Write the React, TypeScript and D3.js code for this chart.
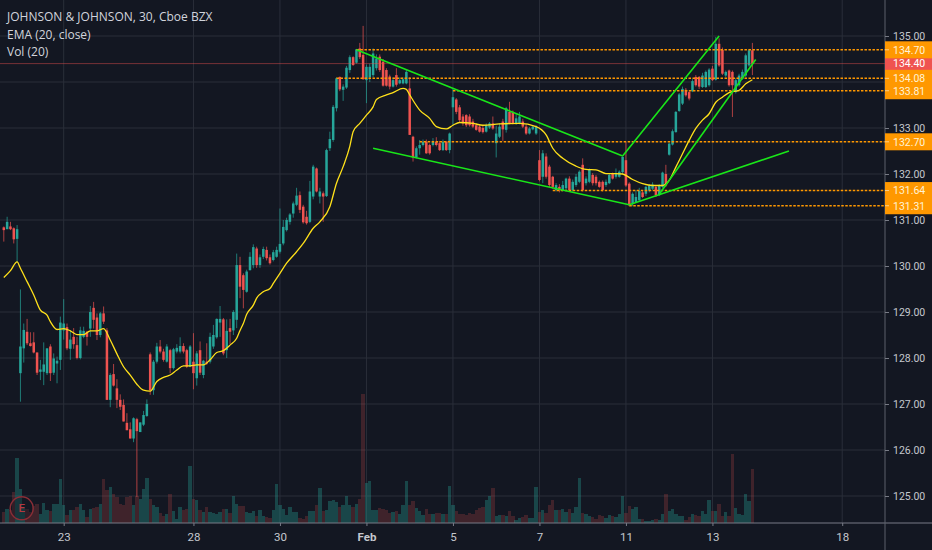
import { useEffect, useRef } from "react";
import * as d3 from "d3";

const WIDTH = 932;
const HEIGHT = 550;
const PLOT_RIGHT = 885;
const PLOT_BOTTOM = 523;
const BG = "#131722";
const UP = "#26a69a";
const DOWN = "#ef5350";
const ORANGE = "#ff9800";
const FONT = "Roboto, sans-serif";

const opens = [
  130.84,130.80,130.86,130.82,130.59,127.67,128.21,128.57,128.32,128.34,
  128.12,127.70,127.70,127.67,128.25,127.68,127.88,127.96,128.60,128.67,
  128.20,128.46,128.28,128.00,128.46,128.57,128.64,129.09,128.88,128.50,
  128.97,128.60,127.09,127.65,127.34,127.09,126.98,126.59,126.45,126.25,
  126.67,126.39,126.55,126.74,128.08,127.30,127.92,128.25,128.14,127.92,
  128.17,127.78,128.14,128.14,128.26,128.17,127.81,127.92,127.56,128.17,
  127.63,127.92,127.92,128.25,128.45,128.77,128.84,128.17,128.65,128.60,
  128.83,130.02,129.80,129.44,129.91,130.02,130.38,130.02,130.20,130.35,
  130.19,130.13,130.20,130.31,130.49,130.78,130.96,131.14,131.33,131.54,
  131.29,131.07,130.96,131.51,132.12,131.51,131.58,131.52,132.56,132.74,
  133.43,134.11,133.83,133.88,134.26,134.54,134.42,134.73,134.59,134.04,
  134.10,134.15,134.30,134.55,134.44,134.26,134.12,133.90,134.15,133.97,
  133.97,133.97,133.86,132.81,132.36,132.56,132.63,132.70,132.63,132.63,
  132.70,132.67,132.52,132.70,132.52,133.45,133.62,133.45,133.25,133.28,
  133.25,133.14,133.06,133.03,133.00,132.92,133.01,133.10,132.67,132.81,
  133.14,132.96,133.35,133.35,133.10,133.10,133.14,133.03,132.88,132.97,
  132.88,132.30,131.94,132.38,132.16,131.94,131.65,131.72,131.65,131.69,
  131.90,131.65,131.76,131.83,132.20,131.80,131.83,131.98,131.94,131.83,
  131.83,131.76,131.80,132.01,131.94,131.94,132.04,132.30,131.79,131.35,
  131.39,131.43,131.60,131.57,131.64,131.68,131.72,131.54,131.72,132.00,
  132.42,132.64,132.91,133.37,133.53,133.83,133.78,133.80,134.11,134.11,
  133.89,133.89,133.93,134.29,134.05,134.83,134.70,134.14,134.25,134.22,
  133.78,133.93,134.07,134.14,134.36,134.69,
];

const closes = [
  130.78,130.96,130.80,130.58,130.80,128.25,128.61,128.32,128.26,128.12,
  127.68,127.75,127.86,128.21,127.67,127.99,127.94,128.77,128.75,128.21,
  128.40,128.30,128.00,128.60,128.59,128.46,129.00,128.83,128.50,128.97,
  128.79,127.09,127.63,127.40,127.09,126.94,126.62,126.43,126.25,126.69,
  126.41,126.60,126.76,127.00,127.30,127.92,128.25,128.14,127.96,128.25,
  127.78,128.19,128.22,128.26,128.14,127.81,128.25,127.67,128.10,127.68,
  127.94,127.88,128.46,128.50,128.85,128.85,128.10,128.59,128.57,129.00,
  130.02,129.55,129.48,129.88,130.20,130.41,130.02,130.19,130.37,130.17,
  130.06,130.30,130.35,130.48,130.85,131.00,131.12,131.36,131.53,131.22,
  130.95,130.93,131.62,132.16,131.62,131.62,131.51,132.52,132.76,133.46,
  134.08,133.84,133.90,134.31,134.54,134.37,134.71,134.54,134.06,134.33,
  134.33,134.62,134.51,134.26,133.92,133.92,133.90,134.04,133.94,134.04,
  134.06,134.22,132.85,132.36,132.56,132.63,132.70,132.45,132.45,132.70,
  132.63,132.52,132.70,132.52,132.88,133.67,133.35,133.17,133.10,133.06,
  133.06,133.03,132.96,132.92,132.91,133.06,133.10,132.99,132.88,133.03,
  132.97,133.43,133.10,133.10,133.21,133.25,133.03,132.88,132.99,133.03,
  133.03,131.87,132.45,131.94,131.76,131.72,131.76,131.65,131.76,131.90,
  131.65,131.83,131.94,132.05,131.65,131.90,132.09,131.80,131.80,131.72,
  131.65,131.83,131.98,131.90,132.01,132.05,132.37,131.75,131.32,131.57,
  131.50,131.63,131.50,131.72,131.75,131.77,131.54,131.75,132.03,131.75,
  132.66,132.93,133.35,133.73,133.85,133.71,133.64,134.02,133.93,133.90,
  134.14,134.22,134.27,134.04,134.83,134.36,134.18,134.22,133.93,133.93,
  134.04,134.14,134.22,134.58,134.69,134.40,
];

const highs = [
  130.86,131.07,130.96,130.84,130.89,129.49,128.75,128.85,128.56,128.56,
  128.12,127.96,128.34,128.21,128.30,128.10,128.03,128.90,129.28,128.75,
  128.60,128.65,128.46,128.68,128.68,128.59,129.13,129.22,128.97,129.00,
  129.12,128.65,127.67,127.87,127.54,127.21,127.10,126.80,126.60,126.71,
  126.70,126.60,126.85,127.10,128.12,127.96,128.33,128.39,128.20,128.30,
  128.20,128.22,128.30,128.45,128.32,128.20,128.28,128.54,128.15,128.36,
  127.96,128.32,128.55,128.72,128.86,129.13,128.87,128.84,128.85,129.04,
  130.27,130.20,129.84,129.92,130.30,130.47,130.42,130.25,130.42,130.42,
  130.25,130.35,130.42,131.25,131.00,131.05,131.15,131.40,131.70,131.62,
  131.33,131.20,131.85,132.20,132.14,131.70,131.62,132.55,132.92,133.50,
  134.10,134.12,133.95,134.35,134.58,134.56,134.72,134.85,135.22,134.38,
  134.40,134.73,134.60,134.60,134.50,134.30,134.16,134.10,134.30,134.10,
  134.10,134.27,134.10,132.83,132.60,132.74,132.75,132.75,132.66,132.78,
  132.80,132.72,132.75,132.72,132.90,133.87,133.65,133.50,133.30,133.30,
  133.30,133.20,133.10,133.08,133.05,133.10,133.13,133.25,133.05,133.10,
  133.20,133.46,133.57,133.38,133.30,133.35,133.20,133.08,133.02,133.06,
  133.06,132.52,132.52,132.45,132.20,131.96,131.80,131.78,131.85,131.92,
  131.95,131.88,132.00,132.08,132.34,131.95,132.12,132.02,131.98,131.86,
  131.86,131.88,132.00,132.03,132.12,132.08,132.39,132.70,131.82,131.60,
  131.65,131.70,131.65,131.75,131.78,131.82,131.75,131.78,132.05,132.20,
  132.68,132.97,133.37,133.76,133.90,133.87,133.82,134.06,134.15,134.13,
  134.20,134.25,134.30,134.35,134.98,134.95,134.75,134.25,134.27,134.25,
  134.08,134.18,134.27,134.62,134.72,134.85,
];

const lows = [
  130.53,130.80,130.78,130.49,130.08,127.05,127.90,128.28,128.25,128.10,
  127.63,127.52,127.41,127.63,127.50,127.63,127.45,127.74,128.40,128.17,
  127.96,128.20,127.97,127.97,128.43,128.27,128.46,128.64,128.39,128.45,
  128.74,127.09,126.93,127.38,126.91,126.87,126.62,126.43,126.25,126.17,
  124.98,126.39,126.52,126.72,127.20,127.20,127.88,128.10,127.92,127.90,
  127.67,127.75,128.10,128.10,128.10,127.78,127.80,127.32,127.40,127.63,
  127.56,127.85,127.88,128.20,128.42,128.46,128.06,128.00,128.30,128.50,
  128.65,129.30,129.08,129.42,129.90,129.95,129.96,129.96,130.15,130.12,
  130.03,130.10,130.18,130.27,130.45,130.75,130.90,131.05,131.30,131.15,
  130.92,130.90,130.93,131.45,131.60,131.36,130.96,131.50,132.50,132.70,
  133.36,133.80,133.59,133.85,134.20,134.35,134.40,134.50,134.05,133.54,
  134.00,134.10,134.25,134.22,133.90,133.90,133.84,133.88,133.90,133.95,
  133.95,133.95,132.85,132.27,132.34,132.42,132.60,132.44,132.42,132.60,
  132.60,132.50,132.50,132.50,132.45,133.07,133.30,133.12,133.05,133.02,
  133.03,133.00,132.94,132.90,132.88,132.90,132.98,132.96,132.36,132.78,
  132.72,132.90,133.08,133.08,133.07,133.08,133.00,132.85,132.86,132.95,
  132.85,131.84,131.80,131.90,131.72,131.68,131.62,131.60,131.62,131.65,
  131.62,131.62,131.72,131.80,131.62,131.75,131.80,131.75,131.75,131.70,
  131.62,131.72,131.78,131.88,131.90,131.92,132.00,131.72,131.30,131.30,
  131.37,131.40,131.48,131.52,131.60,131.65,131.50,131.52,131.70,131.72,
  132.40,132.62,132.90,133.35,133.50,133.68,133.60,133.78,133.90,133.85,
  133.87,133.87,133.90,134.02,134.03,134.33,134.15,134.10,133.90,133.24,
  133.75,133.90,134.05,134.10,134.33,134.15,
];

// thousands of shares
const volumes = [
  33,43,40,93,195,102,48,43,33,50,
  58,28,61,40,36,58,58,133,53,23,
  38,38,48,56,38,18,43,46,48,56,
  133,98,108,88,78,58,53,78,80,53,
  80,73,103,134,73,53,48,30,20,26,
  86,36,13,48,38,43,171,71,68,38,
  33,48,33,30,28,33,43,43,30,80,
  58,50,50,33,30,36,20,38,21,18,
  16,38,116,55,43,23,48,33,33,16,
  13,20,36,36,53,104,36,38,66,68,
  63,48,53,80,53,48,58,73,388,120,
  126,40,40,46,42,40,30,33,36,28,
  53,126,53,65,46,36,23,43,26,26,
  30,30,28,28,110,53,36,26,26,23,
  31,26,40,46,48,68,80,104,20,23,
  23,20,35,20,10,16,18,23,16,16,
  108,33,38,30,53,68,38,40,41,33,
  43,30,48,135,30,26,20,18,13,23,
  20,16,23,20,18,26,80,31,50,43,
  48,13,13,6,6,8,13,8,26,86,
  35,43,28,22,22,10,18,26,23,20,
  36,28,68,36,35,56,20,33,20,208,
  46,26,23,86,65,162,
];

const emaBars = [
  0,2,4,5,7,9,11,13,14,16,18,20,22,24,26,28,30,32,34,36,38,40,42,44,46,48,50,52,54,56,58,60,62,64,66,68,
  70,71,72,73,75,76,78,80,81,83,85,88,90,93,95,98,100,102,104,105,107,109,111,112,115,117,120,121,122,125,
  128,130,133,135,137,141,144,149,155,160,163,165,168,172,175,178,181,184,186,189,192,195,198,200,202,204,
  206,208,210,212,214,216,218,221,223,225,
];
const emaValues = [
  129.75,129.90,130.09,129.95,129.66,129.37,129.04,128.93,128.79,128.62,128.64,128.59,128.51,128.51,128.59,128.59,128.64,128.39,128.09,127.81,127.63,127.43,127.30,127.28,127.49,127.58,127.63,127.74,127.83,127.83,127.85,127.85,127.96,128.12,128.16,128.28,
  128.43,128.60,128.75,128.95,129.15,129.30,129.44,129.51,129.62,129.84,130.06,130.31,130.49,130.82,130.96,131.29,131.80,132.16,132.60,132.92,133.10,133.28,133.46,133.62,133.72,133.77,133.86,133.84,133.72,133.39,
  133.21,133.03,132.98,133.06,133.12,133.10,133.06,133.09,133.10,133.03,132.85,132.56,132.34,132.17,132.10,132.09,132.01,132.01,132.00,131.88,131.79,131.75,131.75,131.86,132.15,132.44,
  132.73,132.99,133.17,133.31,133.56,133.67,133.77,133.82,133.96,134.05,
];

const priceTicks = [125,126,127,128,129,130,131,132,133,134,135];
// 134.00 sits behind the level tags, so it gets no label
const priceLabels = [125,126,127,128,129,130,131,132,133,135];
const dateBars = [18,57,83,109,135,161,187,213,252];
const dateLabels = ["23","28","30","Feb","5","7","11","13","18"];

const levelPrices = [134.70,134.08,133.81,132.70,131.64,131.31];
const levelBars = [106,100,135,125,165,188];
const lastPrice = 134.40;

const trendStartBars = [106,111,186,188,197];
const trendStartPrices = [134.70,132.56,132.39,131.33,131.56];
const trendEndBars = [186,188,215,236,226];
const trendEndPrices = [132.39,131.33,135.00,132.50,134.49];

const legendLines = ["JOHNSON & JOHNSON, 30, Cboe BZX","EMA (20, close)","Vol (20)"];

const xScale = d3.scaleLinear().domain([0, 252]).range([3.8, 3.8 + 252 * 3.327]);
const yScale = d3.scaleLinear().domain([125, 135]).range([496, 36]);
const volScale = d3.scaleLinear().domain([0, 400]).range([PLOT_BOTTOM, PLOT_BOTTOM - 400 / 3]);

export default function App() {
  const xAxisRef = useRef<SVGGElement>(null);
  const yAxisRef = useRef<SVGGElement>(null);

  const emaPath = d3
    .line<number>()
    .x((bar) => xScale(bar))
    .y((_, i) => yScale(emaValues[i]))
    .curve(d3.curveMonotoneX)(emaBars);

  // axes through d3, marks through JSX
  useEffect(() => {
    const xAxis = d3
      .axisBottom(xScale)
      .tickValues(dateBars)
      .tickSize(3)
      .tickPadding(7)
      .tickFormat((_, i) => dateLabels[i]);
    const xg = d3.select(xAxisRef.current!);
    xg.selectAll("*").remove();
    xg.call(xAxis as any);
    xg.select(".domain").remove();
    xg.selectAll("line").attr("stroke", "#787b86");
    xg.selectAll("text")
      .attr("fill", "#c5c8ce")
      .style("font-family", FONT)
      .style("font-size", "11.5px")
      .style("font-weight", (_, i) => (dateLabels[i] === "Feb" ? 700 : 400));

    const yAxis = d3
      .axisRight(yScale)
      .tickValues(priceLabels)
      .tickSize(4)
      .tickPadding(4)
      .tickFormat((d) => (d as number).toFixed(2));
    const yg = d3.select(yAxisRef.current!);
    yg.selectAll("*").remove();
    yg.call(yAxis as any);
    yg.select(".domain").remove();
    yg.selectAll("line").attr("stroke", "#787b86");
    yg.selectAll("text")
      .attr("fill", "#c5c8ce")
      .style("font-family", FONT)
      .style("font-size", "10.5px");
  }, []);

  return (
    <svg
      width={WIDTH}
      height={HEIGHT}
      style={{ position: "absolute", left: 0, top: 0, display: "block" }}
    >
      <defs>
        <clipPath id="plot">
          <rect width={PLOT_RIGHT} height={PLOT_BOTTOM} />
        </clipPath>
      </defs>
      <rect width={WIDTH} height={HEIGHT} fill={BG} />

      {/* Grid */}
      <g stroke="#2a2e39" strokeWidth={1}>
        {priceTicks.map((p) => (
          <line key={p} x1={0} x2={PLOT_RIGHT} y1={yScale(p)} y2={yScale(p)} />
        ))}
        {dateBars.map((b) => (
          <line key={b} x1={xScale(b)} x2={xScale(b)} y1={0} y2={PLOT_BOTTOM} />
        ))}
      </g>

      <g clipPath="url(#plot)">
        {/* Volume */}
        <g shapeRendering="crispEdges">
          {volumes.map((v, i) => {
            const up = closes[i] >= opens[i];
            return (
              <rect
                key={i}
                x={xScale(i) - 1.66}
                width={3.33}
                y={volScale(v)}
                height={PLOT_BOTTOM - volScale(v)}
                fill={up ? UP : DOWN}
                opacity={up ? 0.33 : 0.2}
              />
            );
          })}
        </g>

        {/* Candles */}
        {opens.map((o, i) => {
          const color = closes[i] >= o ? UP : DOWN;
          const top = yScale(Math.max(o, closes[i]));
          const bottom = yScale(Math.min(o, closes[i]));
          return (
            <g key={i}>
              <line
                x1={xScale(i)}
                x2={xScale(i)}
                y1={yScale(highs[i])}
                y2={yScale(lows[i])}
                stroke={color}
                strokeWidth={1}
                opacity={0.7}
              />
              <rect
                x={xScale(i) - 1.25}
                width={2.5}
                y={top}
                height={Math.max(bottom - top, 1)}
                fill={color}
              />
            </g>
          );
        })}

        {/* Last price */}
        <line
          x1={0}
          x2={PLOT_RIGHT}
          y1={yScale(lastPrice)}
          y2={yScale(lastPrice)}
          stroke={DOWN}
          strokeOpacity={0.45}
        />

        {/* Levels */}
        {levelPrices.map((p, i) => (
          <line
            key={p}
            x1={xScale(levelBars[i])}
            x2={PLOT_RIGHT}
            y1={yScale(p)}
            y2={yScale(p)}
            stroke={ORANGE}
            strokeWidth={1.4}
            strokeDasharray="2.5 1.5"
          />
        ))}

        <path d={emaPath ?? ""} fill="none" stroke="#ffe11a" strokeWidth={1.3} />

        {/* Trend lines */}
        {trendStartBars.map((b, i) => (
          <line
            key={i}
            x1={xScale(b)}
            y1={yScale(trendStartPrices[i])}
            x2={xScale(trendEndBars[i])}
            y2={yScale(trendEndPrices[i])}
            stroke="#19e619"
            strokeWidth={1.6}
          />
        ))}
      </g>

      {/* Earnings marker */}
      <circle cx={21.7} cy={508.3} r={11.5} fill="rgba(19,23,34,0.35)" stroke="#8a2e36" strokeWidth={1.4} />
      <text x={21.7} y={512.3} textAnchor="middle" fontFamily={FONT} fontSize={11.5} fontWeight={500} fill="#b5383f">
        E
      </text>

      {/* Axis lines */}
      <line x1={0} x2={WIDTH} y1={PLOT_BOTTOM} y2={PLOT_BOTTOM} stroke="#787b86" />
      <line x1={PLOT_RIGHT} x2={PLOT_RIGHT} y1={0} y2={HEIGHT} stroke="#5d606b" />
      <g ref={xAxisRef} transform={`translate(0,${PLOT_BOTTOM})`} />
      <g ref={yAxisRef} transform={`translate(${PLOT_RIGHT},0)`} />

      {/* Price tags: last price under the levels */}
      <g fontFamily={FONT} fontSize={10.5}>
        <rect x={PLOT_RIGHT} width={WIDTH - PLOT_RIGHT} y={yScale(lastPrice) - 8.5} height={17} fill={DOWN} />
        <text x={893} y={yScale(lastPrice) + 3.8} fill="#ffffff">
          {lastPrice.toFixed(2)}
        </text>
        {levelPrices.map((p) => (
          <g key={p}>
            <rect x={PLOT_RIGHT} width={WIDTH - PLOT_RIGHT} y={yScale(p) - 8.5} height={17} fill={ORANGE} />
            <line x1={PLOT_RIGHT} x2={PLOT_RIGHT + 4} y1={yScale(p)} y2={yScale(p)} stroke="#ffd28a" />
            <text x={893} y={yScale(p) + 3.8} fill="#fff3d6">
              {p.toFixed(2)}
            </text>
          </g>
        ))}
      </g>

      {/* Legend */}
      <g fontFamily="'Open Sans', sans-serif" fontSize={12} fill="#d1d4dc">
        {legendLines.map((t, i) => (
          <text key={t} x={7} y={21 + i * 17.5}>
            {t}
          </text>
        ))}
      </g>
    </svg>
  );
}
